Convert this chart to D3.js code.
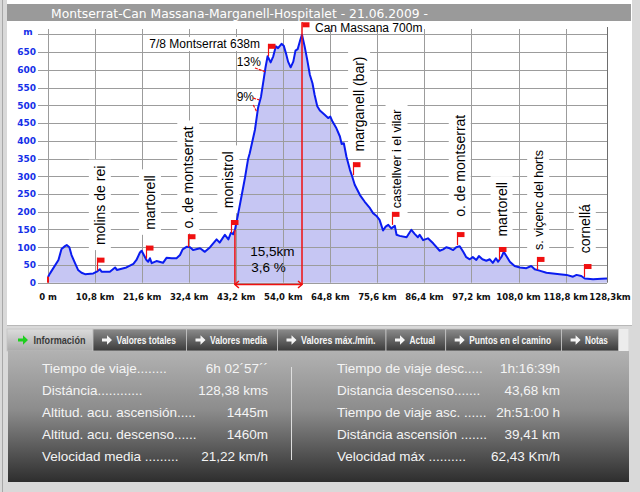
<!DOCTYPE html>
<html>
<head>
<meta charset="utf-8">
<script src="https://cdn.jsdelivr.net/npm/d3@7"></script>
<style>
  html, body { margin: 0; padding: 0; background: #fff; }
  svg { display: block; }
</style>
</head>
<body>
<svg id="chart"></svg>
<script>
const width = 640;
const height = 492;

const title = "Montserrat-Can Massana-Marganell-Hospitalet - 21.06.2009 -";

// [km, altitude m]
const profile = [
  [0, 16], [0.5, 27], [2.4, 64], [3.1, 95], [3.9, 103], [4.3, 106], [4.9, 100], [5.4, 78],
  [6.2, 55], [6.9, 36], [7.7, 28], [8.5, 24], [10.4, 26], [11.2, 31], [11.9, 38], [12.3, 31],
  [14.2, 31], [15.4, 43], [15.8, 36], [18.0, 43], [19.6, 53], [20.3, 64], [21.1, 85], [21.5, 90],
  [22.0, 78], [22.6, 64], [23.0, 59], [23.4, 69], [23.8, 55], [24.9, 61], [26.4, 56], [27.2, 70],
  [28.4, 69], [29.5, 69], [30.3, 78], [30.9, 94], [31.8, 101], [32.6, 100], [33.3, 92], [34.9, 97],
  [36.0, 87], [37.2, 100], [38.7, 122], [39.4, 113], [40.6, 135], [41.4, 122], [42.0, 141], [42.5, 137],
  [42.9, 149], [43.6, 191], [44.4, 243], [45.2, 295], [45.9, 347], [46.3, 365], [47.5, 431], [48.2, 492],
  [48.9, 525], [49.6, 581], [49.9, 605], [50.4, 638], [51.1, 621], [51.7, 638], [52.3, 666], [52.8, 661],
  [53.6, 673], [54.1, 668], [54.6, 647], [55.1, 623], [55.7, 607], [56.3, 623], [56.8, 654], [57.3, 658],
  [57.8, 680], [58.3, 699], [58.9, 666], [59.5, 628], [60.1, 586], [60.7, 562], [61.2, 529], [61.8, 497],
  [62.4, 485], [63.5, 473], [64.3, 464], [64.8, 468], [65.3, 454], [66.2, 435], [67.0, 412], [67.4, 391],
  [67.9, 393], [68.5, 355], [69.3, 318], [69.8, 300], [70.4, 276], [71.6, 247], [72.7, 228], [73.9, 210],
  [74.6, 196], [75.4, 188], [76.1, 177], [76.9, 147], [77.5, 158], [78.1, 163], [78.8, 153], [79.6, 160],
  [80.0, 135], [80.7, 132], [82.3, 128], [83.4, 149], [84.2, 137], [84.9, 128], [85.3, 135], [86.1, 120],
  [87.2, 125], [88.4, 111], [89.9, 90], [90.7, 94], [91.4, 100], [92.2, 97], [93.0, 92], [93.7, 100],
  [94.5, 103], [95.3, 87], [96.0, 72], [96.8, 66], [97.5, 72], [98.3, 64], [98.9, 75], [99.7, 66],
  [100.6, 62], [101.4, 66], [102.1, 56], [102.8, 69], [103.3, 59], [104.1, 73], [104.6, 87], [105.2, 75],
  [106.0, 59], [107.1, 47], [108.3, 43], [109.8, 41], [110.9, 47], [111.7, 38], [112.8, 34], [114.4, 28],
  [115.9, 26], [117.4, 24], [119.0, 22], [120.5, 17], [121.3, 22], [122.4, 19], [123.2, 12], [125.1, 10],
  [127.0, 11], [128.3, 12]
];

const elevTicks = [0, 50, 100, 150, 200, 250, 300, 350, 400, 450, 500, 550, 600, 650, 700];
const kmTicks = [0, 10.8, 21.6, 32.4, 43.2, 54.0, 64.8, 75.6, 86.4, 97.2, 108.0, 118.8, 128.3];
const kmLabels = ["0 m", "10,8 km", "21,6 km", "32,4 km", "43,2 km", "54,0 km", "64,8 km",
  "75,6 km", "86,4 km", "97,2 km", "108,0 km", "118,8 km", "128,3km"];

// flag point (km, m) and where its vertical name starts (km, m)
const waypoints = [
  { name: "molins de rei", km: 11.2, elev: 34, labelKm: 11.9, labelElev: 106 },
  { name: "martorell", km: 22.6, elev: 68, labelKm: 23.4, labelElev: 149 },
  { name: "o. de montserrat", km: 32.2, elev: 100, labelKm: 32.2, labelElev: 153 },
  { name: "monistrol", km: 42.1, elev: 140, labelKm: 41.4, labelElev: 210 },
  { name: "marganell (bar)", km: 70.0, elev: 303, labelKm: 71.4, labelElev: 370 },
  { name: "castellver i el vilar", km: 79.0, elev: 163, labelKm: 80.0, labelElev: 210 },
  { name: "o. de montserrat", km: 93.9, elev: 106, labelKm: 94.5, labelElev: 186 },
  { name: "martorell", km: 103.5, elev: 64, labelKm: 104.1, labelElev: 130 },
  { name: "s. viçenc del horts", km: 112.3, elev: 36, labelKm: 112.5, labelElev: 92 },
  { name: "cornellá", km: 123.0, elev: 16, labelKm: 123.2, labelElev: 83 }
];

const peaks = [
  { text: "7/8 Montserrat 638m", km: 50.5, elev: 638 },
  { text: "Can Massana 700m", km: 58.3, elev: 700 }
];

const grades = [
  { text: "13%", km: 46.1, elev: 623, marks: [[47.5, 605, 49.8, 595]] },
  { text: "9%", km: 45.3, elev: 524, marks: [[47.1, 520, 48.5, 515], [47.1, 501, 47.9, 482]] }
];

const climb = { fromKm: 42.9, toKm: 58.3, fromElev: 149, dist: "15,5km", grade: "3,6 %" };

const tabs = ["Información", "Valores totales", "Valores media", "Valores máx./mín.",
  "Actual", "Puntos en el camino", "Notas"];

const infoLeft = [
  ["Tiempo de viaje........", "6h 02´57´´"],
  ["Distáncia............", "128,38 kms"],
  ["Altitud. acu. ascensión.....", "1445m"],
  ["Altitud. acu. descenso......", "1460m"],
  ["Velocidad media .........", "21,22 km/h"]
];
const infoRight = [
  ["Tiempo de viaje desc.....", "1h:16:39h"],
  ["Distancia descenso.......", "43,68 km"],
  ["Tiempo de viaje asc. ......", "2h:51:00 h"],
  ["Distáncia ascensión .......", "39,41 km"],
  ["Velocidad máx ..........", "62,43 Km/h"]
];

const svg = d3.select("#chart").attr("width", width).attr("height", height);
const defs = svg.append("defs");

const x = d3.scaleLinear().domain([0, 128.3]).range([48, 607]);
const y = d3.scaleLinear().domain([0, 700]).range([282.7, 34.3]);

// frame
svg.append("rect").attr("width", width).attr("height", height).attr("fill", "#d9d9d9");
svg.append("line").attr("x1", 2.5).attr("x2", 2.5).attr("y1", 0).attr("y2", height)
  .attr("stroke", "#a8a8a8");
svg.append("rect").attr("x", 7).attr("y", 0).attr("width", 625).attr("height", 325).attr("fill", "#fff");
svg.append("rect").attr("x", 7).attr("y", 4).attr("width", 624).attr("height", 17).attr("fill", "#9a9a9a");
svg.append("text")
  .attr("x", 51).attr("y", 17.5)
  .attr("font-family", "DejaVu Sans, Verdana, sans-serif")
  .attr("font-size", 13)
  .attr("fill", "#fff")
  .attr("textLength", 377).attr("lengthAdjust", "spacingAndGlyphs")
  .text(title);

// area under profile
const area = d3.area().x((d) => x(d[0])).y0(y(0)).y1((d) => y(d[1]));
const line = d3.line().x((d) => x(d[0])).y((d) => y(d[1]));

svg.append("path").datum(profile).attr("d", area).attr("fill", "#c6c6f3");

// grid
const grid = svg.append("g").attr("stroke", "#9c9c9c").attr("stroke-width", 1);
grid.selectAll("line.h").data(elevTicks).join("line")
  .attr("class", "h")
  .attr("x1", 38).attr("x2", 607)
  .attr("y1", (d) => Math.round(y(d)) + 0.5)
  .attr("y2", (d) => Math.round(y(d)) + 0.5);
grid.selectAll("line.v").data(kmTicks.slice(0, -1)).join("line")
  .attr("class", "v")
  .attr("x1", (d) => Math.round(x(d)) + 0.5)
  .attr("x2", (d) => Math.round(x(d)) + 0.5)
  .attr("y1", 29).attr("y2", y(0));
svg.append("line")
  .attr("x1", 607.5).attr("x2", 607.5).attr("y1", 27).attr("y2", y(0))
  .attr("stroke", "#6e6e6e");

// vertical place names with white boxes
const labelFont = "Liberation Sans, Arial, sans-serif";
const smallNames = ["castellver i el vilar", "s. viçenc del horts"];
const labelG = svg.append("g");
waypoints.forEach((w) => {
  const cx = x(w.labelKm);
  const by = y(w.labelElev);
  const g = labelG.append("g");
  const box = g.append("rect").attr("fill", "#fff");
  const t = g.append("text")
    .attr("transform", `translate(${cx},${by}) rotate(-90)`)
    .attr("dy", "0.36em")
    .attr("font-family", labelFont)
    .attr("font-size", smallNames.includes(w.name) ? 12.5 : 14)
    .attr("fill", "#000")
    .text(w.name);
  const len = t.node().getComputedTextLength();
  box.attr("x", cx - 11).attr("width", 22)
    .attr("y", by - len - 6).attr("height", len + 11);
});

// profile line
svg.append("path").datum(profile).attr("d", line)
  .attr("fill", "none").attr("stroke", "#0a1cf0").attr("stroke-width", 2)
  .attr("stroke-linejoin", "round");

// climb bracket
const red = "#f01010";
const cb = svg.append("g").attr("stroke", red).attr("stroke-width", 1.5).attr("fill", "none");
const by0 = y(0) + 1.8;
cb.append("line").attr("x1", x(climb.fromKm)).attr("x2", x(climb.fromKm))
  .attr("y1", y(climb.fromElev)).attr("y2", by0);
cb.append("line").attr("x1", x(climb.toKm)).attr("x2", x(climb.toKm))
  .attr("y1", y(700) - 12).attr("y2", by0);
cb.append("line").attr("x1", x(climb.fromKm)).attr("x2", x(climb.toKm))
  .attr("y1", by0).attr("y2", by0);
cb.append("path").attr("d",
  `M${x(climb.fromKm) + 4},${by0 - 3.5}L${x(climb.fromKm)},${by0}L${x(climb.fromKm) + 4},${by0 + 3.5}` +
  `M${x(climb.toKm) - 4},${by0 - 3.5}L${x(climb.toKm)},${by0}L${x(climb.toKm) - 4},${by0 + 3.5}`);
const midX = (x(climb.fromKm) + x(climb.toKm)) / 2;
svg.append("text").attr("x", midX + 4).attr("y", 256).attr("text-anchor", "middle")
  .attr("font-family", labelFont).attr("font-size", 13.5).text(climb.dist);
svg.append("text").attr("x", midX).attr("y", 271.5).attr("text-anchor", "middle")
  .attr("font-family", labelFont).attr("font-size", 13.5).text(climb.grade);

// flags
function flag(px, baseY, topY) {
  svg.append("line").attr("x1", px).attr("x2", px).attr("y1", baseY).attr("y2", topY)
    .attr("stroke", red).attr("stroke-width", 1.2);
  svg.append("rect").attr("x", px).attr("y", topY).attr("width", 7).attr("height", 5).attr("fill", red);
}
waypoints.forEach((w) => flag(Math.round(x(w.km)) + 0.5, y(w.elev), y(w.elev) - 13));
flag(Math.round(x(peaks[0].km)) + 0.5, y(peaks[0].elev), y(peaks[0].elev) - 12.5);
flag(Math.round(x(peaks[1].km)) + 0.5, y(700) - 11, y(700) - 12);
svg.append("rect").attr("x", x(0) - 1).attr("y", y(0) - 6).attr("width", 2).attr("height", 6).attr("fill", red);

// peak names
svg.append("rect").attr("x", x(peaks[0].km) - 122).attr("y", 37).attr("width", 114).attr("height", 14)
  .attr("fill", "#fff");
svg.append("text").attr("x", x(peaks[0].km) - 8).attr("y", y(peaks[0].elev) - 8.5)
  .attr("text-anchor", "end").attr("font-family", labelFont).attr("font-size", 12).text(peaks[0].text);
svg.append("text").attr("x", x(peaks[1].km) + 13).attr("y", y(peaks[1].elev) - 2.5)
  .attr("font-family", labelFont).attr("font-size", 12).text(peaks[1].text);

// grade notes
grades.forEach((g) => {
  svg.append("text").attr("x", x(g.km)).attr("y", y(g.elev) + 4.5).attr("text-anchor", "middle")
    .attr("font-family", labelFont).attr("font-size", 12).text(g.text);
  g.marks.forEach((m) => {
    svg.append("line").attr("x1", x(m[0])).attr("y1", y(m[1])).attr("x2", x(m[2])).attr("y2", y(m[3]))
      .attr("stroke", red).attr("stroke-width", 1.2).attr("stroke-dasharray", "3,1");
  });
});

// axis labels
svg.append("g").selectAll("text").data(elevTicks.slice(0, -1)).join("text")
  .attr("x", 36).attr("y", (d) => y(d) + 3.3)
  .attr("text-anchor", "end")
  .attr("font-family", "DejaVu Sans, Verdana, sans-serif").attr("font-weight", "bold")
  .attr("font-size", 9).attr("fill", "#1530e8")
  .text((d) => d);
svg.append("text").attr("x", 28).attr("y", 35).attr("text-anchor", "middle")
  .attr("font-family", "DejaVu Sans, Verdana, sans-serif").attr("font-weight", "bold")
  .attr("font-size", 9).attr("fill", "#1530e8").text("m");
svg.append("g").selectAll("text").data(kmTicks).join("text")
  .attr("x", (d, i) => (i === kmTicks.length - 1 ? x(d) + 3 : x(d)))
  .attr("y", 299.8)
  .attr("text-anchor", "middle")
  .attr("font-family", "DejaVu Sans, Verdana, sans-serif").attr("font-weight", "bold")
  .attr("font-size", 8.5).attr("fill", "#111")
  .text((d, i) => kmLabels[i]);

// tabs
svg.append("line").attr("x1", 7).attr("x2", 632).attr("y1", 325.5).attr("y2", 325.5).attr("stroke", "#b8b8b8");
const gTab = defs.append("linearGradient").attr("id", "tabDark").attr("x1", 0).attr("x2", 0).attr("y1", 0).attr("y2", 1);
gTab.append("stop").attr("offset", 0).attr("stop-color", "#8c8c8c");
gTab.append("stop").attr("offset", 1).attr("stop-color", "#3a3a3a");
const gSel = defs.append("linearGradient").attr("id", "tabSel").attr("x1", 0).attr("x2", 0).attr("y1", 0).attr("y2", 1);
gSel.append("stop").attr("offset", 0).attr("stop-color", "#dcdcdc");
gSel.append("stop").attr("offset", 1).attr("stop-color", "#aaaaaa");
const tabEdges = [7, 93, 186.5, 277.5, 386, 445.7, 561.6, 618.4];
const tabY = 329;
const tabH = 22;
svg.append("rect").attr("x", 618.4).attr("y", tabY).attr("width", 10).attr("height", tabH).attr("fill", "#ececec");
tabs.forEach((name, i) => {
  const x0 = tabEdges[i];
  const w = tabEdges[i + 1] - x0;
  const sel = i === 0;
  svg.append("rect").attr("x", x0).attr("y", tabY).attr("width", w).attr("height", tabH)
    .attr("fill", sel ? "url(#tabSel)" : "url(#tabDark)")
    .attr("stroke", "#c4c4c4").attr("stroke-width", 0.8);
  const ax = x0 + (sel ? 11 : 9);
  const ay = tabY + tabH / 2;
  svg.append("path")
    .attr("d", `M${ax},${ay - 1.6}h5v-3.2l5,4.8l-5,4.8v-3.2h-5z`)
    .attr("fill", sel ? "#1ecf1e" : "#f4f4f4");
  svg.append("text").attr("x", x0 + (sel ? 26.5 : 23.5)).attr("y", ay + 3.8)
    .attr("font-family", labelFont).attr("font-weight", "bold").attr("font-size", 10.5)
    .attr("fill", sel ? "#3a3a3a" : "#f6f6f6")
    .attr("textLength", w - 34).attr("lengthAdjust", "spacingAndGlyphs")
    .text(name);
});

// info panel
const gPanel = defs.append("linearGradient").attr("id", "panel").attr("x1", 0).attr("x2", 0).attr("y1", 0).attr("y2", 1);
gPanel.append("stop").attr("offset", 0).attr("stop-color", "#b2b2b2");
gPanel.append("stop").attr("offset", 0.45).attr("stop-color", "#8c8c8c");
gPanel.append("stop").attr("offset", 1).attr("stop-color", "#2e2e2e");
svg.append("rect").attr("x", 8).attr("y", tabY + tabH).attr("width", 621).attr("height", 131)
  .attr("fill", "url(#panel)");
svg.append("line").attr("x1", 291.5).attr("x2", 291.5).attr("y1", 367).attr("y2", 460)
  .attr("stroke", "#dedede");

function infoColumn(rows, lx, vx) {
  rows.forEach((r, i) => {
    const yy = 373 + i * 22;
    svg.append("text").attr("x", lx).attr("y", yy)
      .attr("font-family", labelFont).attr("font-size", 13.5).attr("fill", "#f4f4f4").text(r[0]);
    svg.append("text").attr("x", vx).attr("y", yy).attr("text-anchor", "end")
      .attr("font-family", labelFont).attr("font-size", 13.5).attr("fill", "#f4f4f4").text(r[1]);
  });
}
infoColumn(infoLeft, 42, 268);
infoColumn(infoRight, 337, 560);
</script>
</body>
</html>
